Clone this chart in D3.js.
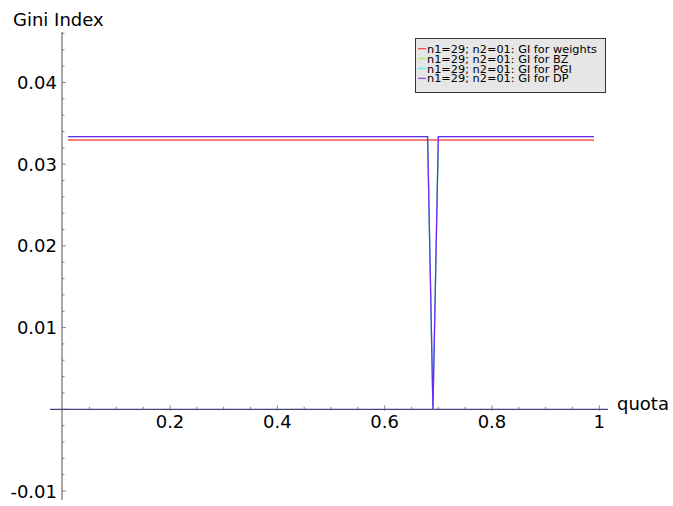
<!DOCTYPE html>
<html><head><meta charset="utf-8">
<script src="https://cdn.jsdelivr.net/npm/d3@7"></script>
<style>
html,body{margin:0;padding:0;background:#fff;}
svg{display:block;font-family:"DejaVu Sans",sans-serif;}
</style></head>
<body>
<svg id="chart" width="673" height="506"></svg>
<script>
// Data
const quotaWeights = [0.01, 0.99];
const giWeights    = [0.03296, 0.03296];
const quotaPower = [0.01, 0.68, 0.69, 0.70, 0.99];
const giBZ  = [0.03337, 0.03337, 0, 0.03337, 0.03337];
const giPGI = [0.03337, 0.03337, 0, 0.03337, 0.03337];
const giDP  = [0.03337, 0.03337, 0, 0.03337, 0.03337];
const xTickLabels = [0.2, 0.4, 0.6, 0.8, 1];
const yTickLabels = [-0.01, 0.01, 0.02, 0.03, 0.04];
const seriesNames = ["n1=29; n2=01: GI for weights", "n1=29; n2=01: GI for BZ",
                     "n1=29; n2=01: GI for PGI", "n1=29; n2=01: GI for DP"];
const seriesColors = ["#ff0000", "#80ff00", "#00ffff", "#8000ff"];

const svg = d3.select("#chart");
const x = d3.scaleLinear().domain([0, 1]).range([62.7, 599.3]);
const y = d3.scaleLinear().domain([0, 0.04]).range([409.3, 82.5]);

// Y axis
const yAxisX = 62;
svg.append("line").attr("x1", yAxisX).attr("x2", yAxisX).attr("y1", 32).attr("y2", 500)
  .attr("stroke", "#8c8c8c").attr("stroke-width", 1.5);
d3.range(-5, 24).map(i => i * 0.002).forEach(v => {
  const major = Math.abs(Math.round(v * 100) - v * 100) < 1e-9;
  svg.append("line").attr("x1", yAxisX).attr("x2", yAxisX + (major ? 4 : 2.5))
    .attr("y1", y(v)).attr("y2", y(v)).attr("stroke", "#666").attr("stroke-width", 0.8);
});
yTickLabels.forEach(v => {
  svg.append("text").attr("x", 57).attr("y", y(v) + 6.5).attr("text-anchor", "end")
    .attr("font-size", 18).attr("fill", "#000").text(v);
});

// X axis
const xAxisY = y(0);
svg.append("line").attr("x1", 50).attr("x2", 608).attr("y1", xAxisY).attr("y2", xAxisY)
  .attr("stroke", "#44447a").attr("stroke-width", 1.3);
d3.range(1, 21).map(i => i * 0.05).forEach(v => {
  const major = (Math.round(v * 100) % 20) === 0;
  svg.append("line").attr("x1", x(v)).attr("x2", x(v))
    .attr("y1", xAxisY - (major ? 4 : 2.5)).attr("y2", xAxisY + (major ? 1.5 : 0))
    .attr("stroke", "#666").attr("stroke-width", 0.8);
});
xTickLabels.forEach(v => {
  svg.append("text").attr("x", x(v)).attr("y", 428).attr("text-anchor", "middle")
    .attr("font-size", 18).attr("fill", "#000").text(v);
});

// Axis titles
svg.append("text").attr("x", 617).attr("y", 410).attr("font-size", 18).text("quota");
svg.append("text").attr("x", 13).attr("y", 26).attr("font-size", 18).text("Gini Index");

// Lines
const line = d3.line().x(d => x(d[0])).y(d => y(d[1]));
const series = [
  [quotaWeights, giWeights],
  [quotaPower, giBZ],
  [quotaPower, giPGI],
  [quotaPower, giDP]
];
const opac = [0.7, 0.75, 0.75, 0.85];
series.forEach((s, i) => {
  const pts = s[0].map((q, j) => [q, s[1][j]]);
  svg.append("path").attr("d", line(pts)).attr("fill", "none")
    .attr("stroke", seriesColors[i]).attr("stroke-width", 1.3)
    .attr("stroke-opacity", opac[i]);
});

// Legend
const lg = svg.append("g");
lg.append("rect").attr("x", 415.5).attr("y", 38.5).attr("width", 190).attr("height", 54)
  .attr("fill", "#e6e6e6").attr("stroke", "#333").attr("stroke-width", 1);
seriesNames.forEach((name, i) => {
  const cy = 48.7 + i * 9.9;
  lg.append("line").attr("x1", 418).attr("x2", 426).attr("y1", cy).attr("y2", cy)
    .attr("stroke", seriesColors[i]).attr("stroke-width", 1.3).attr("stroke-opacity", 0.7);
  lg.append("text").attr("x", 427).attr("y", cy + 4).attr("font-size", 11.3).attr("fill", "#000").text(name);
});
</script>
</body></html>
